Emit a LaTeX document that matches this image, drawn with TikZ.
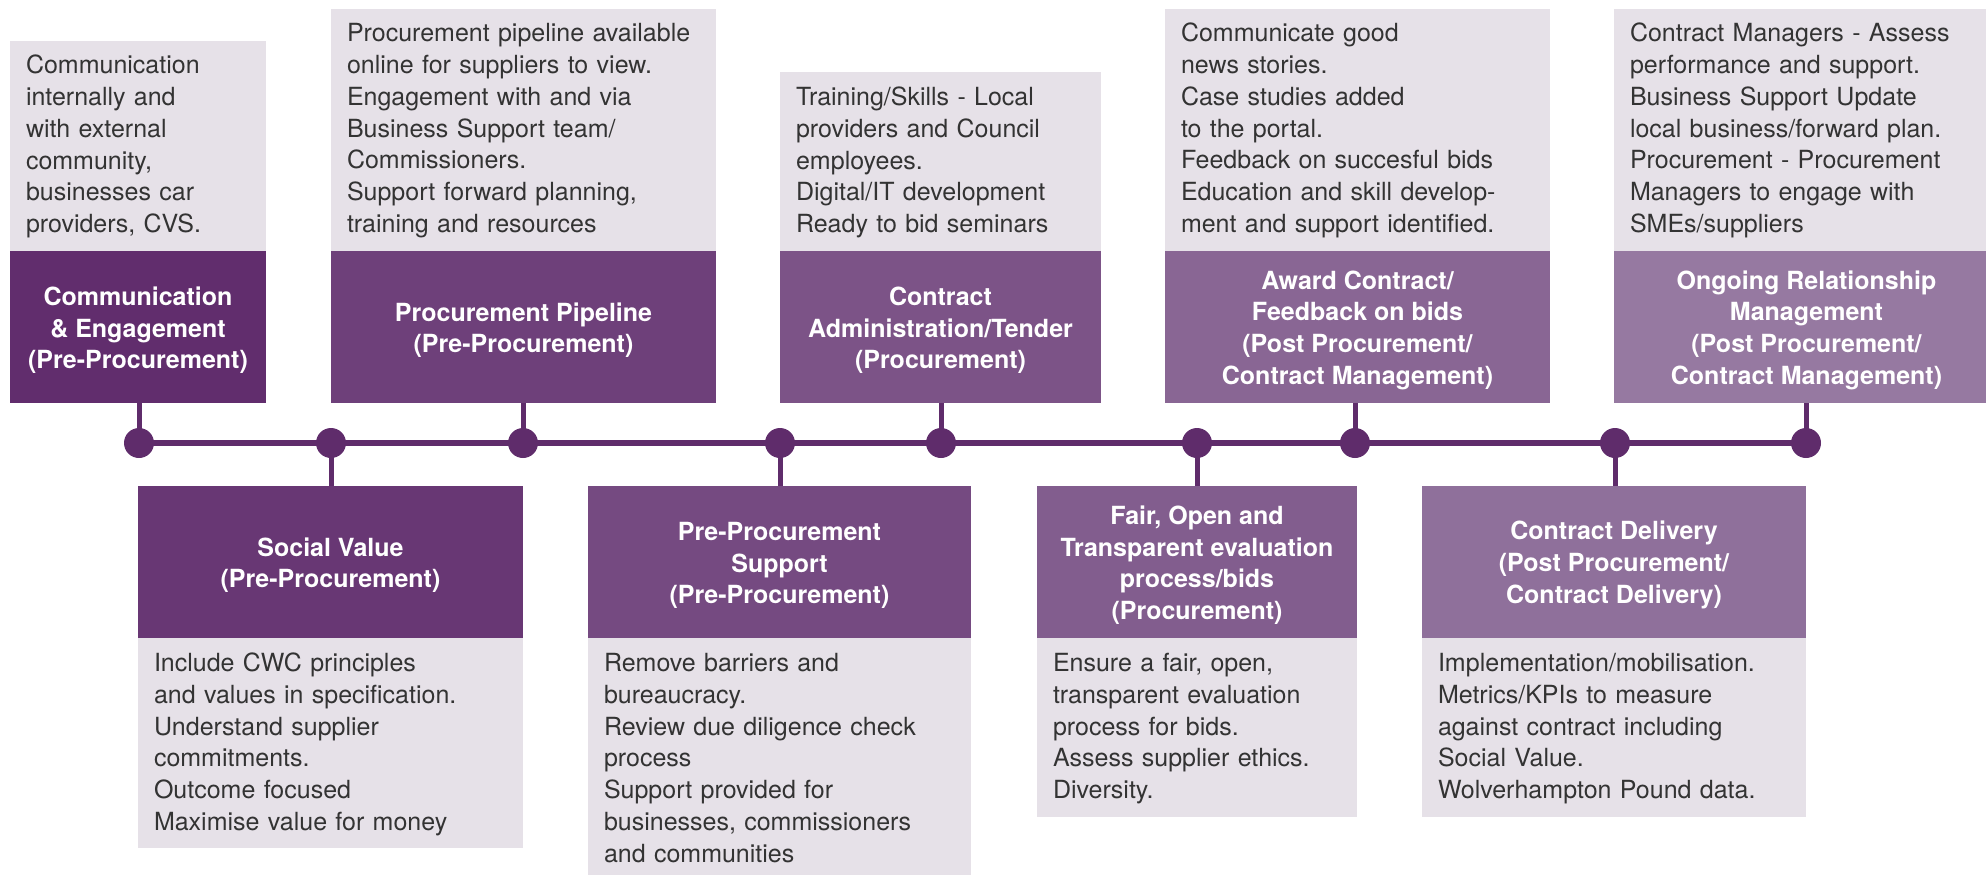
\documentclass[tikz,border=0pt]{standalone}
\usepackage{fontspec}
\setmainfont{TeX Gyre Heros}

% purple ramp along the timeline, darkest first
\definecolor{c0}{HTML}{612D6D}
\definecolor{c1}{HTML}{683774}
\definecolor{c2}{HTML}{6E407A}
\definecolor{c3}{HTML}{754A81}
\definecolor{c4}{HTML}{7C5387}
\definecolor{c5}{HTML}{825D8E}
\definecolor{c6}{HTML}{896694}
\definecolor{c7}{HTML}{8F709B}
\definecolor{c8}{HTML}{9679A1}
\definecolor{spinecol}{HTML}{5F2C6B}
\definecolor{lightbg}{HTML}{E6E1E8}
\definecolor{bodytext}{HTML}{333333}

% struts fixing the padding above the first and below the last line
\newcommand\firstline{\rule{0pt}{33pt}}
\newcommand\lastline{\rule[-18pt]{0pt}{18pt}}
% taller first line so the stage titles sit a little lower in their boxes
\newcommand\ts{\rule{0pt}{25pt}}

\tikzset{
  dark/.style={fill=#1, text=white, align=center, inner sep=0pt,
    minimum height=152pt, font=\fontsize{25pt}{31.8pt}\selectfont\bfseries},
  light/.style={fill=lightbg, text=bodytext, align=left, text width=#1,
    inner xsep=16pt, inner ysep=0pt, font=\fontsize{25pt}{31.8pt}\selectfont},
  spine/.style={draw=spinecol, line width=6pt},
  stem/.style={draw=spinecol, line width=5pt},
  dot/.style={circle, fill=spinecol, minimum size=30pt, inner sep=0pt}
}

\begin{document}
\begin{tikzpicture}[x=1pt,y=-1pt]
\useasboundingbox (0,0) rectangle (1986,875);
\clip (0,0) rectangle (1986,875);

% stops on the timeline
\foreach \n/\x in {1/139,2/331,3/523,4/780,5/941,6/1197,7/1355,8/1615,9/1806}
  \coordinate (p\n) at (\x,443);
\draw[spine] (p1) -- (p9);

% upper stages
\node[dark=c0, minimum width=256pt] (t1) at (138,327)
  {\ts Communication\\\& Engagement\\(Pre-Procurement)};
\node[light=224pt, anchor=south west] (n1) at (t1.north west)
  {\firstline Communication\\internally and\\with external\\community,\\businesses car\\providers, CVS.\lastline};

\node[dark=c2, minimum width=385pt] (t2) at (523.5,327)
  {\ts Procurement Pipeline\\(Pre-Procurement)};
\node[light=353pt, anchor=south west] (n2) at (t2.north west)
  {\firstline Procurement pipeline available\\online for suppliers to view.\\Engagement with and via\\Business Support team/\\Commissioners.\\Support forward planning,\\training and resources\lastline};

\node[dark=c4, minimum width=321pt] (t3) at (940.5,327)
  {\ts Contract\\Administration/Tender\\(Procurement)};
\node[light=289pt, anchor=south west] (n3) at (t3.north west)
  {\firstline Training/Skills - Local\\providers and Council\\employees.\\Digital/IT development\\Ready to bid seminars\lastline};

\node[dark=c6, minimum width=385pt] (t4) at (1357.5,327)
  {\ts Award Contract/\\Feedback on bids\\(Post Procurement/\\Contract Management)};
\node[light=353pt, anchor=south west] (n4) at (t4.north west)
  {\firstline Communicate good\\news stories.\\Case studies added\\to the portal.\\Feedback on succesful bids\\Education and skill develop-\\ment and support identified.\lastline};

\node[dark=c8, minimum width=385pt] (t5) at (1806.5,327)
  {\ts Ongoing Relationship\\Management\\(Post Procurement/\\Contract Management)};
\node[light=353pt, anchor=south west] (n5) at (t5.north west)
  {\firstline Contract Managers - Assess\\performance and support.\\Business Support Update\\local business/forward plan.\\Procurement - Procurement\\Managers to engage with\\SMEs/suppliers\lastline};

% lower stages
\node[dark=c1, minimum width=385pt] (b1) at (330.5,562)
  {\ts Social Value\\(Pre-Procurement)};
\node[light=353pt, anchor=north west] (m1) at (b1.south west)
  {\firstline Include CWC principles\\and values in specification.\\Understand supplier\\commitments.\\Outcome focused\\Maximise value for money\lastline};

\node[dark=c3, minimum width=383pt] (b2) at (779.5,562)
  {\ts Pre-Procurement\\Support\\(Pre-Procurement)};
\node[light=351pt, anchor=north west] (m2) at (b2.south west)
  {\firstline Remove barriers and\\bureaucracy.\\Review due diligence check\\process\\Support provided for\\businesses, commissioners\\and communities\lastline};

\node[dark=c5, minimum width=320pt] (b3) at (1197,562)
  {\ts Fair, Open and\\Transparent evaluation\\process/bids\\(Procurement)};
\node[light=288pt, anchor=north west] (m3) at (b3.south west)
  {\firstline Ensure a fair, open,\\transparent evaluation\\process for bids.\\Assess supplier ethics.\\Diversity.\lastline};

\node[dark=c7, minimum width=384pt] (b4) at (1614,562)
  {\ts Contract Delivery\\(Post Procurement/\\Contract Delivery)};
\node[light=352pt, anchor=north west] (m4) at (b4.south west)
  {\firstline Implementation/mobilisation.\\Metrics/KPIs to measure\\against contract including\\Social Value.\\Wolverhampton Pound data.\lastline};

% stems joining each stage to its stop
\draw[stem] (p1) -- (p1 |- t1.south);
\draw[stem] (p2) -- (p2 |- b1.north);
\draw[stem] (p3) -- (p3 |- t2.south);
\draw[stem] (p4) -- (p4 |- b2.north);
\draw[stem] (p5) -- (p5 |- t3.south);
\draw[stem] (p6) -- (p6 |- b3.north);
\draw[stem] (p7) -- (p7 |- t4.south);
\draw[stem] (p8) -- (p8 |- b4.north);
\draw[stem] (p9) -- (p9 |- t5.south);

\foreach \n in {1,...,9}
  \node[dot] (d\n) at (p\n) {};
\end{tikzpicture}
\end{document}
